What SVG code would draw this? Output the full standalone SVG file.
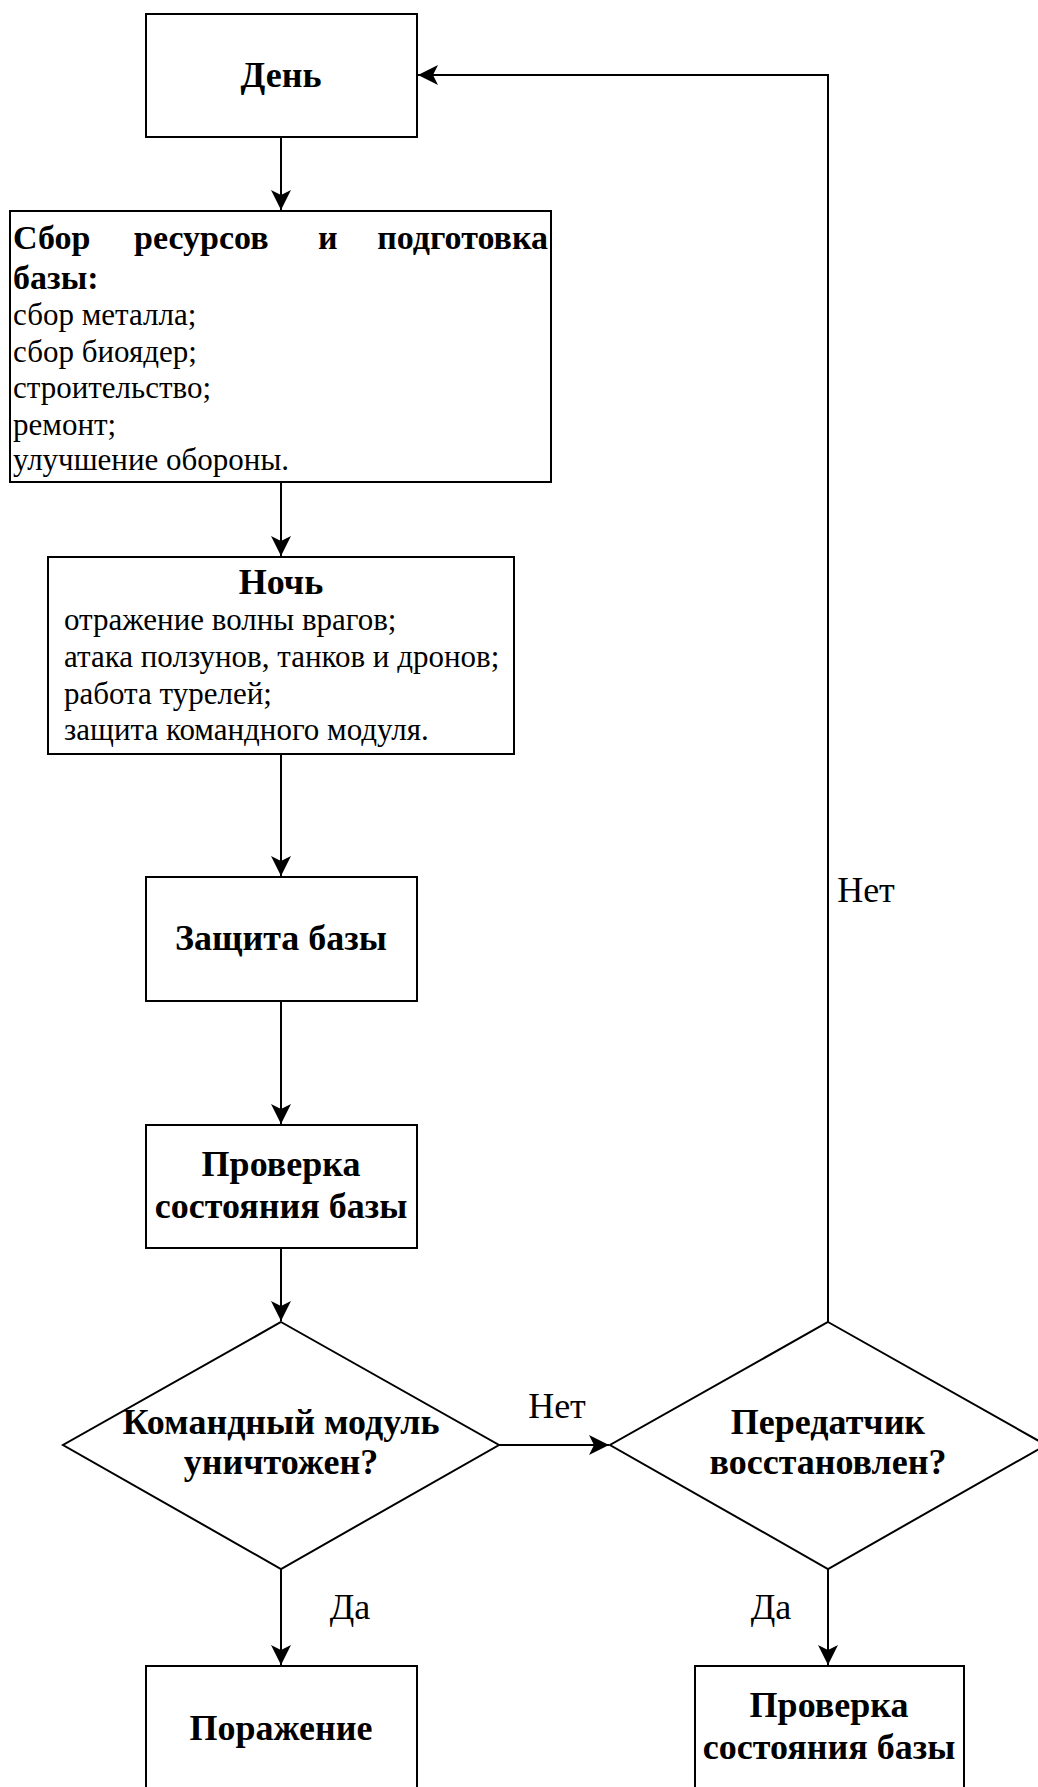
<svg xmlns="http://www.w3.org/2000/svg" width="1038" height="1787" viewBox="0 0 1038 1787">
<style>
.box{fill:#fff;stroke:#000;stroke-width:2}
.t{font-family:"Liberation Serif","Times New Roman",serif;fill:#000}
.b{font-weight:bold;font-size:36px}
.h{font-weight:bold;font-size:34px}
.r{font-size:31px}
.l{font-size:36px}
.c{text-anchor:middle}
.e{stroke:#000;stroke-width:2;fill:none}
</style>
<defs>
<marker id="arr" markerWidth="22" markerHeight="22" refX="20" refY="10" orient="auto" markerUnits="userSpaceOnUse">
<path d="M0,0 L20,10 L0,20 L5,10 Z" fill="#000"/>
</marker>
</defs>
<rect width="1038" height="1787" fill="#fff"/>
<g id="connectors">
<line class="e" x1="281" y1="137" x2="281" y2="210" marker-end="url(#arr)"/>
<line class="e" x1="281" y1="482" x2="281" y2="556" marker-end="url(#arr)"/>
<line class="e" x1="281" y1="754" x2="281" y2="876" marker-end="url(#arr)"/>
<line class="e" x1="281" y1="1001" x2="281" y2="1124" marker-end="url(#arr)"/>
<line class="e" x1="281" y1="1248" x2="281" y2="1321" marker-end="url(#arr)"/>
<line class="e" x1="499" y1="1445" x2="609" y2="1445" marker-end="url(#arr)"/>
<polyline class="e" points="828,1322 828,75 418,75" marker-end="url(#arr)"/>
<line class="e" x1="281" y1="1569" x2="281" y2="1665" marker-end="url(#arr)"/>
<line class="e" x1="828" y1="1569" x2="828" y2="1665" marker-end="url(#arr)"/>
<text class="t l" x="557" y="1418" text-anchor="middle">Нет</text>
<text class="t l" x="866" y="902" text-anchor="middle">Нет</text>
<text class="t l" x="350" y="1619" text-anchor="middle">Да</text>
<text class="t l" x="771" y="1619" text-anchor="middle">Да</text>
</g>
<g id="day">
<rect class="box" x="146" y="14" width="271" height="123"/>
<text class="t b c" x="281" y="87">День</text>
</g>
<g id="collect">
<rect class="box" x="10" y="211" width="541" height="271"/>
<text class="t h" x="13" y="249">Сбор</text>
<text class="t h" x="134" y="249">ресурсов</text>
<text class="t h" x="318" y="249">и</text>
<text class="t h" x="548" y="249" text-anchor="end">подготовка</text>
<text class="t h" x="13" y="289">базы:</text>
<text class="t r" x="13" y="325">сбор металла;</text>
<text class="t r" x="13" y="362">сбор биоядер;</text>
<text class="t r" x="13" y="398">строительство;</text>
<text class="t r" x="13" y="435">ремонт;</text>
<text class="t r" x="13" y="470">улучшение обороны.</text>
</g>
<g id="night">
<rect class="box" x="48" y="557" width="466" height="197"/>
<text class="t b c" x="281" y="594">Ночь</text>
<text class="t r" x="64" y="630">отражение волны врагов;</text>
<text class="t r" x="64" y="667">атака ползунов, танков и дронов;</text>
<text class="t r" x="64" y="704">работа турелей;</text>
<text class="t r" x="64" y="740">защита командного модуля.</text>
</g>
<g id="defense">
<rect class="box" x="146" y="877" width="271" height="124"/>
<text class="t b c" x="281" y="950">Защита базы</text>
</g>
<g id="check1">
<rect class="box" x="146" y="1125" width="271" height="123"/>
<text class="t b c" x="281" y="1176">Проверка</text>
<text class="t b c" x="281" y="1218">состояния базы</text>
</g>
<g id="decision1">
<polygon class="box" points="281,1322 499,1445 281,1569 63,1445"/>
<text class="t b c" x="281" y="1434">Командный модуль</text>
<text class="t b c" x="281" y="1474">уничтожен?</text>
</g>
<g id="decision2">
<polygon class="box" points="828,1322 1046,1445 828,1569 610,1445"/>
<text class="t b c" x="828" y="1434">Передатчик</text>
<text class="t b c" x="828" y="1474">восстановлен?</text>
</g>
<g id="defeat">
<rect class="box" x="146" y="1666" width="271" height="124"/>
<text class="t b c" x="281" y="1740">Поражение</text>
</g>
<g id="check2">
<rect class="box" x="695" y="1666" width="269" height="124"/>
<text class="t b c" x="829" y="1717">Проверка</text>
<text class="t b c" x="829" y="1759">состояния базы</text>
</g>
</svg>
